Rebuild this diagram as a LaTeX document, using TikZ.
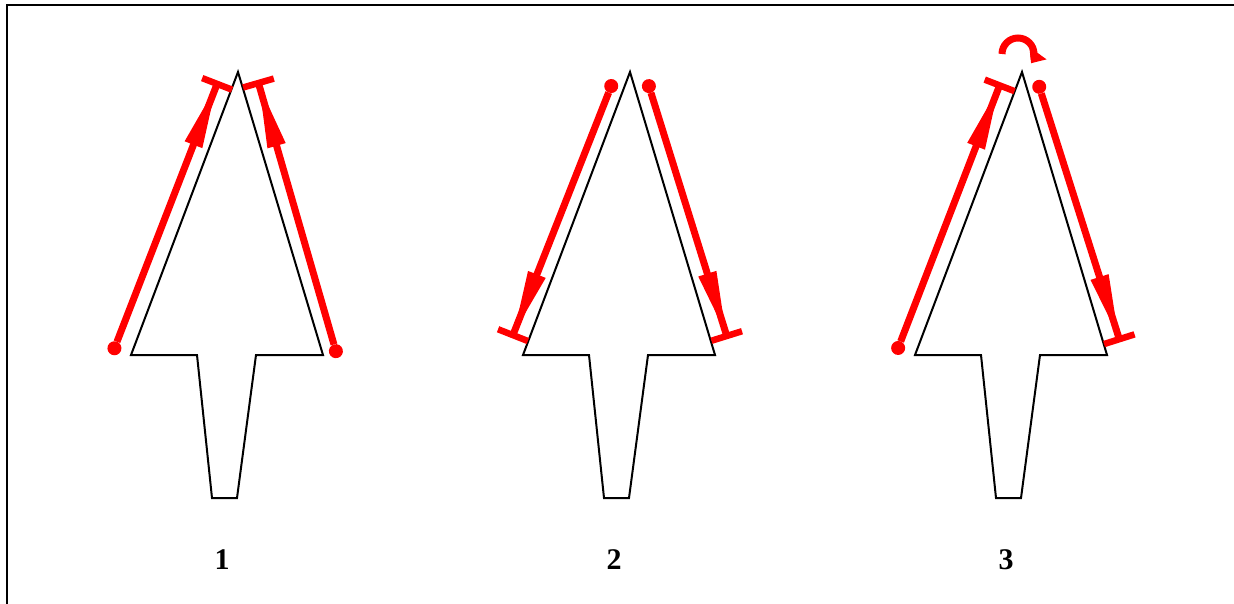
\documentclass[tikz,border=0pt]{standalone}
\usepackage{fontspec}
\setmainfont{Liberation Serif}
\usetikzlibrary{arrows.meta}

\begin{document}
\begin{tikzpicture}[
    x=1pt, y=-1pt,
    outline/.style={draw=black, line width=2pt, line join=miter},
    trace/.style={draw=red, line width=7pt, shorten <=-7pt, shorten >=-3pt,
        {Circle[length=14pt, line width=0pt, sep=4pt]}-{Triangle[length=62pt, width=19pt, line width=0pt] Bar[width=32pt, line width=6.5pt, sep=5pt]}},
    turn/.style={draw=red, line width=7pt, -{Triangle[length=12pt, width=21pt, line width=0pt]}},
    panel/.style={font=\fontsize{30}{34}\selectfont\bfseries}
]
\useasboundingbox (0,0) rectangle (1234,604);

% frame (cut off on the right and at the bottom)
\draw[line width=2pt] (7,604) -- (7,5) -- (1234,5);

% the three arrowheads
\foreach \k in {1,2,3} {
  \begin{scope}[xshift={392*(\k-1)}]
    \coordinate (apex\k) at (238,72);
    \coordinate (left\k) at (131,355);
    \coordinate (right\k) at (323,355);
    \draw[outline] (apex\k) -- (right\k) -- (256,355) -- (237,498) -- (212,498) -- (197,355) -- (left\k) -- cycle;
    \node[panel] (lab\k) at (222,560) {\k};
  \end{scope}
}

% panel 1: both traces upwards
\coordinate (dot1l) at (113,352);
\coordinate (bar1l) at (219,79);
\coordinate (dot1r) at (337,355);
\coordinate (bar1r) at (257,78);
\draw[trace] (dot1l) -- (bar1l);
\draw[trace] (dot1r) -- (bar1r);

% panel 2: both traces downwards
\coordinate (dot2l) at (612.7,82.3);
\coordinate (bar2l) at (511,340);
\coordinate (dot2r) at (647.7,82.3);
\coordinate (bar2r) at (728.3,341);
\draw[trace] (dot2l) -- (bar2l);
\draw[trace] (dot2r) -- (bar2r);

% panel 3: up, turn round the tip, down
\coordinate (dot3l) at (896.7,351.7);
\coordinate (bar3l) at (1001.5,80.5);
\coordinate (dot3r) at (1038,83);
\coordinate (bar3r) at (1120.9,344.2);
\coordinate (turn3) at (1002,54);
\draw[trace] (dot3l) -- (bar3l);
\draw[trace] (dot3r) -- (bar3r);
\draw[turn] (turn3) arc[start angle=180, end angle=395, radius=16];

\end{tikzpicture}
\end{document}
